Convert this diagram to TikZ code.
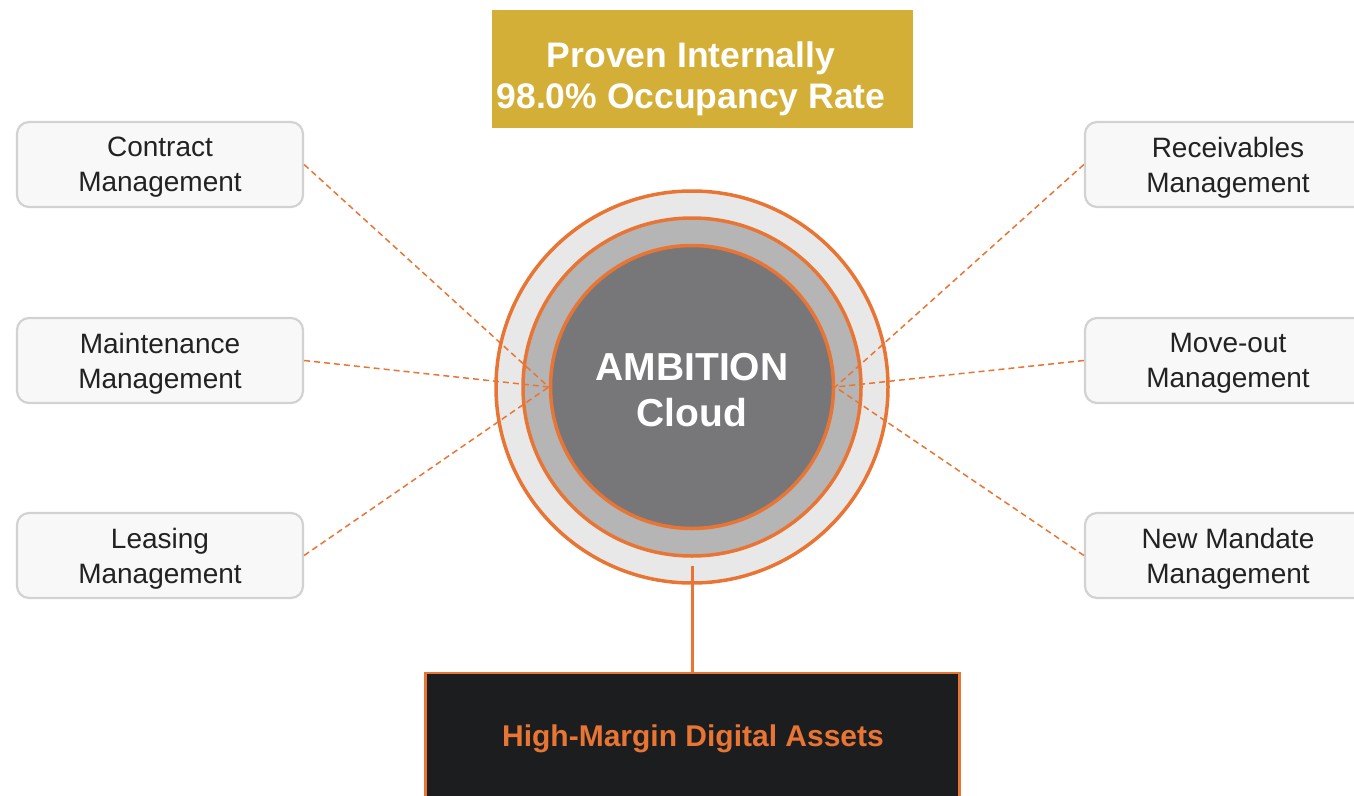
\documentclass[tikz,border=0pt]{standalone}
\usepackage{fontspec}
\setmainfont{Liberation Sans}
\definecolor{accent}{RGB}{232,117,52}
\definecolor{gold}{RGB}{212,175,55}
\definecolor{boxfill}{RGB}{248,248,248}
\definecolor{boxline}{RGB}{210,210,210}
\definecolor{textdark}{RGB}{34,34,34}
\definecolor{ringouter}{RGB}{232,232,232}
\definecolor{ringmid}{RGB}{181,181,181}
\definecolor{core}{RGB}{119,119,122}
\definecolor{panel}{RGB}{28,29,31}
\begin{document}
\begin{tikzpicture}[x=1pt,y=-1pt,
  module/.style={draw=boxline, line width=2.2pt, fill=boxfill, rounded corners=12pt,
    minimum width=286pt, minimum height=85pt, inner sep=0pt},
  modtext/.style={yshift=-3pt, inner sep=0pt, align=center, text=textdark,
    font=\fontsize{28}{35}\selectfont},
  ring/.style={circle, draw=accent, line width=3.5pt, inner sep=0pt},
  link/.style={draw=accent, line width=1.5pt, dash pattern=on 6pt off 4pt},
  stem/.style={draw=accent, line width=3.5pt}]
\clip (0,0) rectangle (1354,795);

% headline banner
\node[fill=gold, minimum width=421pt, minimum height=118pt, inner sep=0pt] (banner) at (702.5,69) {};
\node[text=white, align=center, inner sep=0pt, font=\bfseries\fontsize{35.5}{41}\selectfont] (bannertext) at (691,79) {Proven Internally\\98.0\% Occupancy Rate};

% concentric platform rings
\node[ring, fill=ringouter, minimum size=392pt] (outer) at (692,387) {};
\node[ring, fill=ringmid, minimum size=338pt] (middle) at (692,387) {};
\node[ring, fill=core, minimum size=283pt] (core) at (692,387) {};
\node[text=white, align=center, inner sep=0pt,
  font=\bfseries\fontsize{39}{46}\selectfont] (coretext) at (692,390) {AMBITION\\Cloud};

% modules on the left
\node[module, label={[modtext]center:{Contract\\Management}}] (contract) at (160,164.5) {};
\node[module, label={[modtext]center:{Maintenance\\Management}}] (maintenance) at (160,360.5) {};
\node[module, label={[modtext]center:{Leasing\\Management}}] (leasing) at (160,555.5) {};

% modules on the right
\node[module, label={[modtext]center:{Receivables\\Management}}] (receivables) at (1228,164.5) {};
\node[module, label={[modtext]center:{Move-out\\Management}}] (moveout) at (1228,360.5) {};
\node[module, label={[modtext]center:{New Mandate\\Management}}] (mandate) at (1228,555.5) {};

% dashed links into the core
\draw[link] (contract.east) -- (core.west);
\draw[link] (maintenance.east) -- (core.west);
\draw[link] (leasing.east) -- (core.west);
\draw[link] (receivables.west) -- (core.east);
\draw[link] (moveout.west) -- (core.east);
\draw[link] (mandate.west) -- (core.east);

% output panel
\node[draw=accent, line width=2.5pt, fill=panel, minimum width=534pt, minimum height=127pt,
  inner sep=0pt] (assets) at (692.5,736.5) {};
\node[text=accent, inner sep=0pt, font=\bfseries\fontsize{30}{36}\selectfont] (assetstext) at (693,739) {High-Margin Digital Assets};

\coordinate (stemtop) at (692.5,566);
\draw[stem] (stemtop) -- (assets.north);
\end{tikzpicture}
\end{document}
